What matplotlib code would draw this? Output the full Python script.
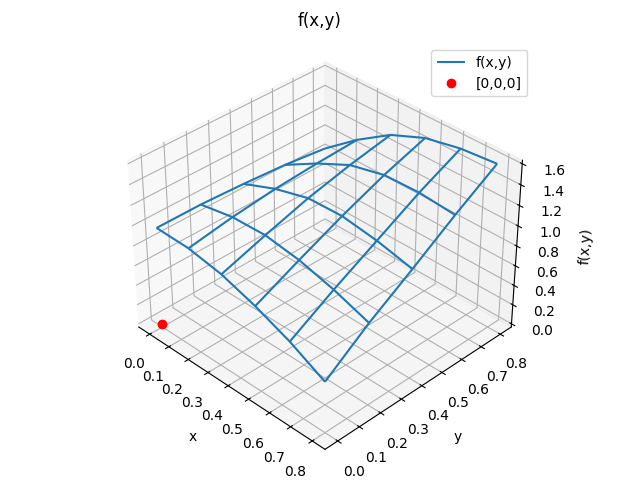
import numpy as np
import matplotlib
matplotlib.use("Agg")
import matplotlib.pyplot as plt

x_vals = [0.0, 0.16, 0.32, 0.48, 0.64, 0.8]
y_vals = [0.0, 0.2, 0.4, 0.6, 0.8]
# z[i][j] : x_vals[i], y_vals[j]
z_vals = [
    [0.98, 0.98, 0.96, 0.93, 0.88],
    [0.97, 1.04, 1.09, 1.12, 1.14],
    [0.91, 1.05, 1.18, 1.28, 1.36],
    [0.80, 1.00, 1.19, 1.36, 1.50],
    [0.66, 0.91, 1.14, 1.37, 1.57],
    [0.48, 0.79, 1.06, 1.34, 1.60],
]

X, Y = np.meshgrid(x_vals, y_vals, indexing="ij")
Z = np.array(z_vals)

fig = plt.figure(figsize=(6.4, 4.8), dpi=100)
ax = fig.add_subplot(projection="3d")
ax.set_position([0.1125, 0.092, 0.775, 0.77])
ax.plot_wireframe(X, Y, Z, label="f(x,y)")
ax.plot([0], [0], [0], "ro", label="[0,0,0]")
ax.set_xlabel("x")
ax.set_ylabel("y")
ax.set_zlabel("f(x,y)")
fig.suptitle("f(x,y)", x=0.5, y=0.975, fontsize=12)
ax.set_xticks(np.arange(0, 0.81, 0.1))
ax.set_yticks(np.arange(0, 0.81, 0.1))
ax.set_zticks(np.arange(0, 1.61, 0.2))
ax.view_init(elev=35, azim=-45)
ax.set_box_aspect((4, 4, 3), zoom=1.14)
ax.legend(loc="upper right", bbox_to_anchor=(0.835, 0.91), bbox_transform=fig.transFigure)
fig.savefig("out.png")
